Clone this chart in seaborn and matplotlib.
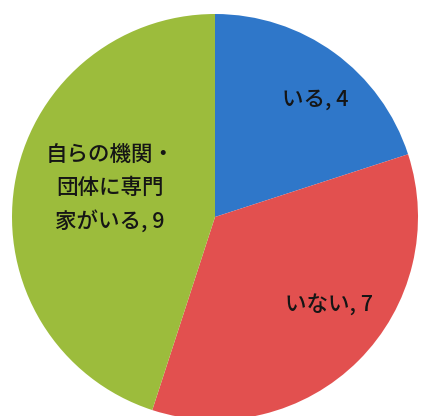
import numpy as np
import matplotlib
matplotlib.use("Agg")
import matplotlib.pyplot as plt
import seaborn as sns

# Survey responses: whether an expert is available
categories = ["いる", "いない", "自らの機関・\n団体に専門\n家がいる"]
counts = [4, 7, 9]
slice_colors = ["#2f77c9", "#e2504f", "#9cbc3c"]

sns.set_theme(style="white")
plt.rcParams["font.family"] = ["Noto Sans CJK JP", "DejaVu Sans"]

fig = plt.figure(figsize=(4.23, 4.16), dpi=100)
ax = fig.add_axes([0, 0, 1, 1])
palette = sns.color_palette(slice_colors)

wedges, _ = ax.pie(
    counts,
    colors=palette,
    startangle=90,
    counterclock=False,
    radius=1.0,
    wedgeprops=dict(linewidth=0),
)

# Place each label inside its slice
label_radius = [0.76, 0.71, 0.535]
angle_shift = [-4.5, 7.3, -6]
for w, name, val, r, dshift in zip(wedges, categories, counts, label_radius, angle_shift):
    mid = np.deg2rad((w.theta1 + w.theta2) / 2 + dshift)
    ax.text(r * np.cos(mid), r * np.sin(mid), f"{name}, {val}",
            ha="center", va="center", fontsize=15.5, color="#151515",
            linespacing=1.6, fontweight="medium")

# pie centre at (215, 217) px with a 203 px radius
cx, cy, rad = 215, 217, 203
ax.set_xlim(-cx / rad, (423 - cx) / rad)
ax.set_ylim(-(416 - cy) / rad, cy / rad)
ax.set_aspect("auto")
ax.axis("off")

fig.savefig("out.png", dpi=100, facecolor="white")
